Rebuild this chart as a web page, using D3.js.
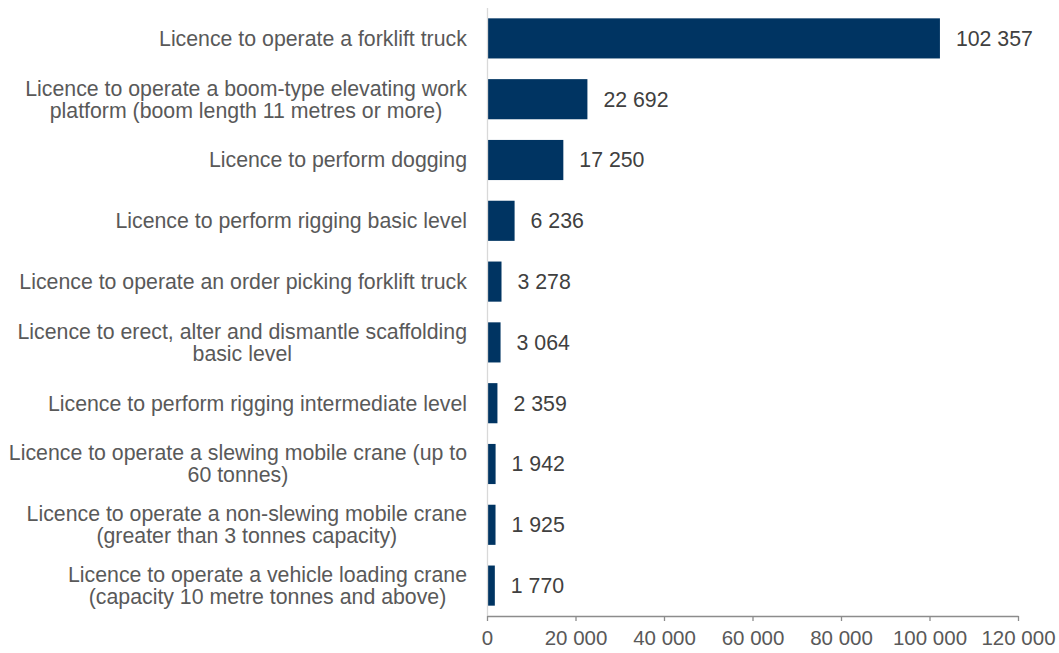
<!DOCTYPE html>
<html><head><meta charset="utf-8">
<script src="https://cdn.jsdelivr.net/npm/d3@7"></script>
<style>body{margin:0;background:#fff;} svg{display:block;font-family:"Liberation Sans",Arial,sans-serif;}</style>
</head><body>
<svg id="chart" width="1059" height="653"></svg>
<script>
const categories = [
  ["Licence to operate a forklift truck"],
  ["Licence to operate a boom-type elevating work", "platform (boom length 11 metres or more)"],
  ["Licence to perform dogging"],
  ["Licence to perform rigging basic level"],
  ["Licence to operate an order picking forklift truck"],
  ["Licence to erect, alter and dismantle scaffolding", "basic level"],
  ["Licence to perform rigging intermediate level"],
  ["Licence to operate a slewing mobile crane (up to", "60 tonnes)"],
  ["Licence to operate a non-slewing mobile crane", "(greater than 3 tonnes capacity)"],
  ["Licence to operate a vehicle loading crane", "(capacity 10 metre tonnes and above)"]
];
const values = [102357, 22692, 17250, 6236, 3278, 3064, 2359, 1942, 1925, 1770];
const xTicks = [0, 20000, 40000, 60000, 80000, 100000, 120000];

const svg = d3.select("#chart");
const x0 = 487, x1 = 1018, yTop = 8, yBot = 616;
const fmt = v => d3.format(",")(v).replace(/,/g, " ");

const x = d3.scaleLinear().domain([0, 120000]).range([x0, x1]);
const y = d3.scaleBand().domain(d3.range(values.length)).range([yTop, yBot]).paddingInner(0.34).paddingOuter(0.17);

// bars
svg.selectAll("rect.bar").data(values).join("rect")
  .attr("x", x(0)).attr("y", (d, i) => y(i))
  .attr("width", d => x(d) - x(0)).attr("height", y.bandwidth())
  .attr("fill", "#003462");

// vertical axis line
svg.append("line").attr("x1", x0 + 0.5).attr("x2", x0 + 0.5).attr("y1", yTop).attr("y2", yBot)
  .attr("stroke", "#d9d9d9").attr("stroke-width", 1.3);

// x axis
const xAxis = d3.axisBottom(x).tickValues(xTicks).tickFormat(fmt).tickSize(5).tickSizeOuter(0);
const gx = svg.append("g").attr("transform", `translate(0,${yBot})`).call(xAxis);
gx.select(".domain").attr("stroke", "#8c8c8c").attr("stroke-width", 1.3);
gx.selectAll(".tick line").attr("stroke", "#8c8c8c").attr("stroke-width", 1.3);
gx.selectAll(".tick text").attr("fill", "#595959").attr("font-size", "20.5px").attr("dy", "0").attr("y", 29)
  .attr("font-family", "Liberation Sans, Arial, sans-serif");

// category labels
const lineH = 22;
svg.selectAll("text.cat").data(categories).join("text")
  .attr("class", "cat")
  .attr("text-anchor", "middle")
  .attr("font-size", "21.3px").attr("fill", "#595959")
  .each(function(lines, i) {
    const cy = y(i) + y.bandwidth() / 2;
    const t = d3.select(this);
    const n = lines.length;
    lines.forEach((ln, k) => {
      t.append("tspan").attr("x", 0).attr("y", cy + (k - (n - 1) / 2) * lineH).attr("dy", "0.35em").text(ln);
    });
  });
svg.selectAll("text.cat").each(function() {
  const t = d3.select(this);
  const w = this.getBBox().width;
  t.selectAll("tspan").attr("x", 467 - w / 2);
});

// value labels
svg.selectAll("text.val").data(values).join("text")
  .attr("class", "val")
  .attr("x", d => x(d) + 16).attr("y", (d, i) => y(i) + y.bandwidth() / 2).attr("dy", "0.35em")
  .attr("font-size", "21.3px").attr("fill", "#404040").text(fmt);
</script>
</body></html>
